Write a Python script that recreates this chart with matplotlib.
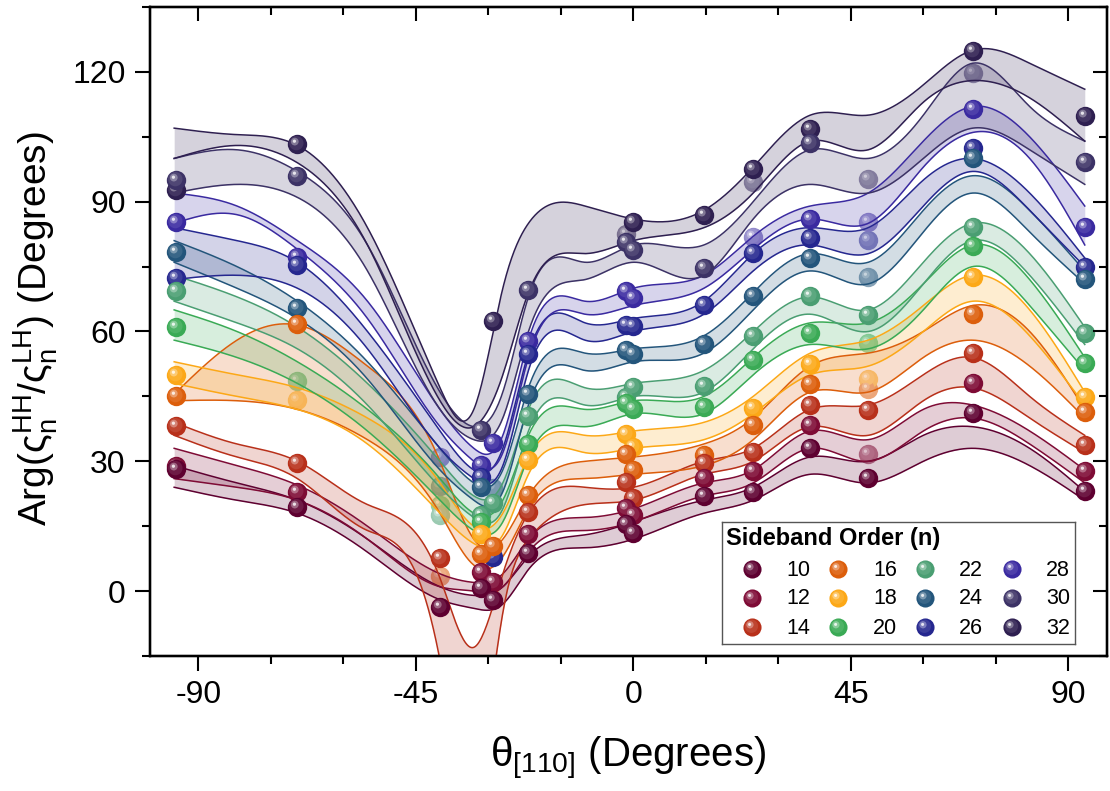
import numpy as np
import matplotlib
matplotlib.use("Agg")
import matplotlib.pyplot as plt
from matplotlib.path import Path
from matplotlib.markers import MarkerStyle
from matplotlib.ticker import MultipleLocator
from matplotlib.colors import to_rgb

plt.rcParams['font.family'] = ['Liberation Sans', 'DejaVu Sans']
plt.rcParams['mathtext.fontset'] = 'custom'
plt.rcParams['mathtext.rm'] = 'Liberation Sans'
plt.rcParams['mathtext.it'] = 'Liberation Sans:italic'
plt.rcParams['mathtext.bf'] = 'Liberation Sans:bold'

nan = np.nan

# Measurement angles (degrees from [110])
theta = [-94.7, -69.5, -40.0, -31.5, -29.0, -21.7, -1.5, 0.0, 14.6, 24.8, 36.6, 48.6, 70.2, 93.4]

# Sideband orders and their colours
orders = [10, 12, 14, 16, 18, 20, 22, 24, 26, 28, 30, 32]
order_colors = ['#5e0030', '#7e0b35', '#b8301a', '#dc5e0b', '#fca817', '#3aaa55',
                '#4a9e72', '#23557b', '#25278f', '#3a2aa0', '#3c3266', '#2e1f50']

# Phase values (degrees) per order
phase_10 = [28.3, 19.4, -3.7, 0.8, -2.0, 8.9, 15.4, 13.5, 21.9, 23.0, 33.0, 26.1, 41.1, 23.2]
phase_12 = [28.9, 22.8, nan, 4.4, 2.0, 13.1, 19.2, 17.7, 26.1, 27.8, 38.3, 31.8, 48.0, 27.8]
phase_14 = [38.1, 29.5, 7.7, nan, nan, 18.2, 25.3, 21.5, 29.5, 32.2, 43.1, 41.9, 55.1, 33.7]
phase_16 = [45.2, 61.8, 3.5, 8.5, 10.4, 22.2, 31.7, 28.0, 31.4, 38.3, 47.9, 46.7, 64.0, 41.4]
phase_18 = [50.0, 44.2, nan, 13.1, nan, 30.4, 36.4, 33.3, nan, 42.3, 52.4, 49.0, 72.7, 44.8]
phase_20 = [61.0, 48.6, 20.0, 15.9, nan, 34.1, 43.5, 42.1, 42.5, 53.4, 59.7, 57.4, 79.8, 52.8]
phase_22 = [69.4, nan, 17.7, 17.7, 20.3, 40.4, 44.8, 47.1, 47.5, 58.9, 68.1, 63.9, 84.2, 59.7]
phase_24 = [78.4, 65.5, 24.2, 24.0, 23.8, 45.6, 55.7, 54.8, 57.0, 68.1, 76.9, 72.7, 100.2, 72.2]
phase_26 = [72.3, 75.4, nan, 26.4, 7.8, 54.9, 61.6, 61.2, 66.2, 78.1, 81.5, 81.1, 102.3, 74.8]
phase_28 = [85.3, 77.3, 31.0, 29.1, 34.3, 57.9, 69.3, 67.7, nan, 81.9, 86.1, 85.3, 111.5, 84.2]
phase_30 = [95.1, 96.0, nan, 37.3, nan, 69.7, 80.7, 78.8, 74.6, 94.5, 103.5, 95.3, 119.8, 99.1]
phase_32 = [92.6, 103.3, nan, nan, 62.5, nan, 82.6, 85.3, 87.0, 97.5, 106.7, nan, 124.9, 109.9]

# Indices of points that lie behind the bands (drawn washed out)
faded_10 = []
faded_12 = [11]
faded_14 = []
faded_16 = [2, 11]
faded_18 = [1, 11]
faded_20 = [1, 2, 11]
faded_22 = [2]
faded_24 = [2, 4, 11]
faded_26 = [11]
faded_28 = [2, 9, 11]
faded_30 = [9, 11, 12]
faded_32 = [6]

# Confidence-band knots (degrees)
band_theta = [-95, -82, -69.5, -55, -40, -33, -27, -21.7, -10, 0, 14.6, 24.8, 36.6, 48.6, 60, 70.2, 82, 93.4]
band_hi_10 = [29, 25, 21, 12, 1, -1, 1, 8, 13, 16, 21, 24, 31, 30, 36, 38, 33, 23]
band_lo_10 = [24, 21, 18, 9, -2, -4, -3, 5, 10, 12, 18, 21, 27, 25, 30, 33, 29, 21]
band_hi_12 = [33, 29, 24.5, 15, 4, 2, 4, 12, 17, 19, 25, 28, 37, 35, 42, 43, 37, 28]
band_lo_12 = [26, 24, 21, 12, 1, 0, 1, 9, 14, 16, 22, 25, 33, 30, 37, 40, 34, 25]
band_hi_14 = [39, 34, 30, 20, 3, -13, 4, 18, 24, 24, 30, 33, 42, 43, 50, 54, 45, 36]
band_lo_14 = [36, 31, 26, 14, -16, -45, -5, 12, 20, 21, 27, 30, 38, 36, 44, 47, 40, 32]
band_hi_16 = [45.5, 58, 61.5, 52, 30, 12, 12, 22, 30, 31, 34, 40, 52, 55, 60, 66, 60, 42]
band_lo_16 = [44, 44, 42, 35, 18, 6, 8, 19, 26, 27, 29, 35, 46, 46, 54, 58, 52, 40]
band_hi_18 = [53, 50, 47, 40, 25, 15, 18, 31, 36, 37, 39, 45, 55, 58, 66, 73, 65, 46]
band_lo_18 = [48, 45, 42, 34, 18, 11, 13, 27, 32, 33, 35, 41, 50, 52, 60, 67, 59, 43]
band_hi_20 = [65, 60, 53, 42, 26, 18, 21, 36, 42, 44, 45, 54, 62, 62, 71, 80, 72, 54]
band_lo_20 = [58, 54, 48, 37, 21, 14, 16, 31, 38, 41, 41, 50, 57, 56, 65, 75, 66, 51]
band_hi_22 = [73, 68, 61, 48, 30, 22, 25, 42, 47, 48, 51, 60, 68, 65, 76, 85, 78, 61]
band_lo_22 = [67, 62, 56, 43, 24, 17, 19, 37, 43, 45, 46, 56, 64, 60, 71, 81, 73, 57]
band_hi_24 = [81, 75, 67, 53, 33, 25, 28, 47, 55, 56, 59, 69, 78, 76, 88, 96, 88, 74]
band_lo_24 = [76, 70, 63, 49, 28, 21, 23, 43, 51, 53, 55, 65, 74, 71, 83, 92, 83, 71]
band_hi_26 = [84, 81, 76, 60, 37, 28, 33, 55, 62, 63, 67, 78, 84, 84, 95, 100, 92, 77]
band_lo_26 = [72, 73, 70, 56, 33, 26, 29, 51, 58, 60, 64, 74, 80, 78, 89, 97, 88, 75]
band_hi_28 = [92, 89, 81, 67, 42, 33, 36, 58, 67, 70, 73, 82, 89, 92, 104, 112, 105, 89]
band_lo_28 = [85, 87, 79, 63, 38, 30, 32, 54, 64, 66, 70, 79, 86, 85, 98, 106, 100, 80]
band_hi_30 = [100, 102, 97, 80, 46, 38, 46, 68, 76, 80, 80, 90, 102, 100, 110, 122, 112, 104]
band_lo_30 = [92, 94, 91, 74, 42, 35, 40, 60, 72, 76, 73, 86, 94, 92, 100, 107, 102, 94]
band_hi_32 = [107, 105.5, 103, 84, 47, 42, 70, 85, 89, 86, 88, 98, 110, 110, 117, 125, 122, 116]
band_lo_32 = [100, 103, 99, 80, 44, 38, 50, 69, 78, 81, 84, 92, 104, 102, 113, 118, 114, 104]

phases = [phase_10, phase_12, phase_14, phase_16, phase_18, phase_20,
          phase_22, phase_24, phase_26, phase_28, phase_30, phase_32]
faded = [faded_10, faded_12, faded_14, faded_16, faded_18, faded_20,
         faded_22, faded_24, faded_26, faded_28, faded_30, faded_32]
bands_hi = [band_hi_10, band_hi_12, band_hi_14, band_hi_16, band_hi_18, band_hi_20,
            band_hi_22, band_hi_24, band_hi_26, band_hi_28, band_hi_30, band_hi_32]
bands_lo = [band_lo_10, band_lo_12, band_lo_14, band_lo_16, band_lo_18, band_lo_20,
            band_lo_22, band_lo_24, band_lo_26, band_lo_28, band_lo_30, band_lo_32]


def natural_spline(xk, yk, xs):
    xk = np.asarray(xk, float)
    yk = np.asarray(yk, float)
    n = len(xk)
    h = np.diff(xk)
    A = np.zeros((n, n))
    r = np.zeros(n)
    A[0, 0] = A[-1, -1] = 1.0
    for i in range(1, n - 1):
        A[i, i - 1] = h[i - 1]
        A[i, i] = 2 * (h[i - 1] + h[i])
        A[i, i + 1] = h[i]
        r[i] = 3 * ((yk[i + 1] - yk[i]) / h[i] - (yk[i] - yk[i - 1]) / h[i - 1])
    c = np.linalg.solve(A, r)
    b = (yk[1:] - yk[:-1]) / h - h * (2 * c[:-1] + c[1:]) / 3
    d = (c[1:] - c[:-1]) / (3 * h)
    idx = np.clip(np.searchsorted(xk, xs) - 1, 0, n - 2)
    dx = xs - xk[idx]
    return yk[idx] + b[idx] * dx + c[idx] * dx ** 2 + d[idx] * dx ** 3


def mix(color, amount):
    rgb = np.array(to_rgb(color))
    return tuple(rgb + (1 - rgb) * amount)


def offset_disk(cx, cy, r):
    anchor = Path([[-1, -1], [1, 1]], [Path.MOVETO, Path.MOVETO])
    return MarkerStyle(Path.make_compound_path(anchor, Path.circle((cx, cy), r)))


SHADE = offset_disk(-0.12, 0.14, 0.74)
GLOW = offset_disk(-0.28, 0.30, 0.40)
SPOT = offset_disk(-0.32, 0.34, 0.17)
BALL = 195


def spheres(ax, x, y, color, z, wash=0.0, size=BALL):
    body = mix(color, wash)
    kw = dict(s=size, linewidths=0, clip_on=False)
    ax.scatter(x, y, marker='o', color=body, zorder=z, **kw)
    ax.scatter(x, y, marker=SHADE, color=mix(body, 0.10), zorder=z + 0.001, **kw)
    ax.scatter(x, y, marker=GLOW, color=mix(body, 0.40), zorder=z + 0.002, **kw)
    ax.scatter(x, y, marker=SPOT, color=mix(body, 0.88), zorder=z + 0.003, **kw)


fig = plt.figure(figsize=(11.10, 7.91), dpi=100)
ax = fig.add_axes([150 / 1110, 1 - 656 / 791, 957 / 1110, 649 / 791])

xs = np.linspace(band_theta[0], band_theta[-1], 700)
th = np.array(theta)
nser = len(orders)
for k, (n, col) in enumerate(zip(orders, order_colors)):
    hi = natural_spline(band_theta, bands_hi[k], xs)
    lo = natural_spline(band_theta, bands_lo[k], xs)
    ax.fill_between(xs, lo, hi, color=col, alpha=0.2, linewidth=0, zorder=2 + 0.01 * k)
    ax.plot(xs, hi, color=col, lw=1.1, zorder=3 + 0.01 * k)
    ax.plot(xs, lo, color=col, lw=1.1, zorder=3 + 0.01 * k)

    y = np.array(phases[k], float)
    mask = ~np.isnan(y)
    fmask = np.zeros_like(mask)
    fmask[faded[k]] = True
    solid = mask & ~fmask
    washed = mask & fmask
    spheres(ax, th[washed], y[washed], col, z=1.5, wash=0.45)
    # lower orders sit in front
    spheres(ax, th[solid], y[solid], col, z=10 + 0.1 * (nser - k))

ax.set_xlim(-100, 98)
ax.set_ylim(-15, 135)
ax.xaxis.set_minor_locator(MultipleLocator(15))
ax.yaxis.set_major_locator(MultipleLocator(30))
ax.yaxis.set_minor_locator(MultipleLocator(15))
ax.set_xticks([-90, -45, 0, 45, 90])
ax.set_xticklabels(['-90', '-45', '0', '45', '90'])

for s in ax.spines.values():
    s.set_linewidth(1.6)
ax.tick_params(which='major', direction='out', length=10.5, width=1.5, labelsize=23, pad=7)
ax.tick_params(which='minor', direction='out', length=6, width=1.5)
# inward ticks on the top and right frame
ax2 = ax.twinx()
ax2.set_ylim(ax.get_ylim())
ax2.yaxis.set_major_locator(MultipleLocator(30))
ax2.yaxis.set_minor_locator(MultipleLocator(15))
ax2.tick_params(which='major', direction='in', length=10, width=1.5, labelright=False)
ax2.tick_params(which='minor', direction='in', length=6, width=1.5)
ax3 = ax.twiny()
ax3.set_xlim(ax.get_xlim())
ax3.xaxis.set_major_locator(MultipleLocator(45))
ax3.xaxis.set_minor_locator(MultipleLocator(15))
ax3.tick_params(which='major', direction='in', length=10, width=1.5, labeltop=False)
ax3.tick_params(which='minor', direction='in', length=6, width=1.5)
for a in (ax2, ax3):
    for s in a.spines.values():
        s.set_linewidth(1.6)

ax.set_xlabel('θ$_{[110]}$ (Degrees)', fontsize=29, labelpad=18)
ax.set_ylabel(r'Arg($\mathrm{\varsigma}_\mathrm{n}^\mathrm{HH}/\mathrm{\varsigma}_\mathrm{n}^\mathrm{LH}$) (Degrees)',
              fontsize=28)
ax.yaxis.set_label_coords(-0.094, 0.505)

# Legend panel
lx0, ly0, lx1, ly1 = 722, 522, 1075, 644
lg = fig.add_axes([lx0 / 1110, 1 - ly1 / 791, (lx1 - lx0) / 1110, (ly1 - ly0) / 791], zorder=20)
lg.set_xlim(0, lx1 - lx0)
lg.set_ylim(ly1 - ly0, 0)
lg.set_xticks([])
lg.set_yticks([])
lg.set_facecolor('white')
for s in lg.spines.values():
    s.set_linewidth(1.0)
    s.set_edgecolor('#555555')
lg.text(4, 16, 'Sideband Order (n)', fontsize=17, fontweight='bold', va='center', ha='left')
mark_x = [30, 116, 203, 290]
text_x = [88, 175, 261, 348]
row_y = [47, 76, 105]
for k, (n, col) in enumerate(zip(orders, order_colors)):
    c, r = divmod(k, 3)
    spheres(lg, [mark_x[c]], [row_y[r]], col, z=5, size=170)
    lg.text(text_x[c], row_y[r] + 1, str(n), fontsize=15.5, ha='right', va='center')

fig.savefig('out.png', dpi=100)
